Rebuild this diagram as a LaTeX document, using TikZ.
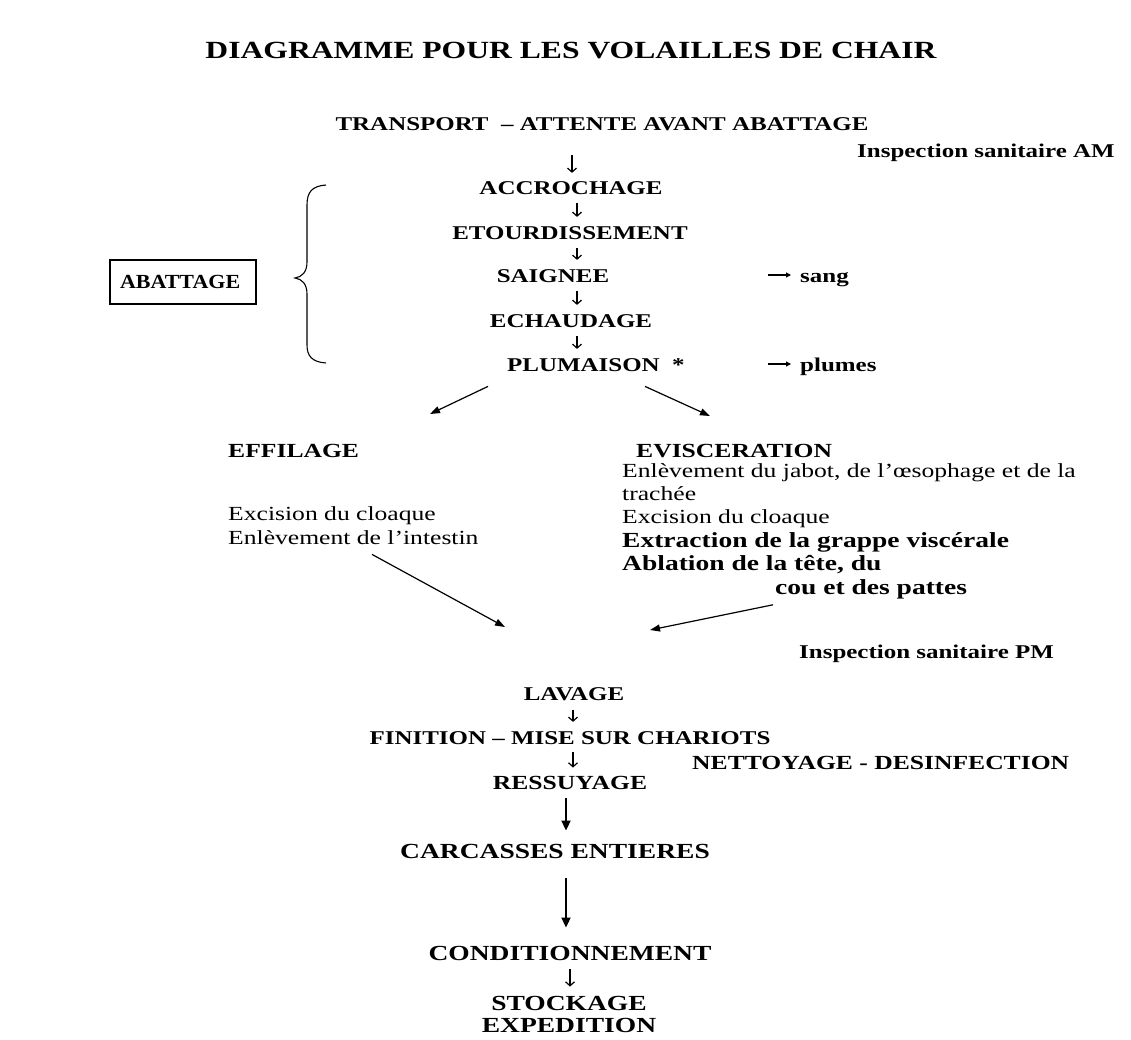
\documentclass[tikz,border=0pt]{standalone}
\usepackage{fontspec}
\setmainfont{Liberation Serif}
\usepackage{graphicx}
\usetikzlibrary{arrows.meta,calc}
\newcommand\wide[1]{\scalebox{1.28}[1]{#1}}
\newcommand\fsz[1]{\fontsize{#1}{#1}\selectfont}
\tikzset{
  lab/.style={inner sep=0pt, anchor=base, font=\bfseries\fsz{19.5}},
  labw/.style={lab, anchor=base west},
  reg/.style={inner sep=0pt, anchor=base west, font=\fsz{20}},
  regb/.style={inner sep=0pt, anchor=base west, font=\bfseries\fsz{21.5}},
  big/.style={lab, font=\bfseries\fsz{21.5}},
  flow/.style={-{Straight Barb[length=4pt,width=9pt]}, line width=1.2pt, shorten <=9pt, shorten >=9pt},
  bigflow/.style={-{Triangle[length=10pt,width=9pt]}, line width=1.8pt},
  diag/.style={-{Triangle[length=10pt,width=7pt]}, line width=1.2pt},
  side/.style={-{Triangle[length=5pt,width=5pt]}, line width=1.1pt, shorten >=9pt},
  boxed/.style={draw, line width=1.2pt, inner sep=0pt, minimum width=146pt, minimum height=44pt, text width=126pt, align=left, font=\bfseries\fsz{20}}
}
\begin{document}
\begin{tikzpicture}[x=1pt,y=-1pt]
\useasboundingbox[fill=white] (0,0) rectangle (1131,1039);

% title
\node[lab, font=\bfseries\fsz{24.7}] (title) at (571,58) {\wide{DIAGRAMME POUR LES VOLAILLES DE CHAIR}};

% main column
\node[lab] (transport) at (602,130) {\wide{TRANSPORT\ \ – ATTENTE AVANT ABATTAGE}};
\node[labw] (inspAM) at (857,157) {\wide{Inspection sanitaire AM}};
\node[lab] (acc) at (571,194) {\wide{ACCROCHAGE}};
\node[lab] (etour) at (570,239) {\wide{ETOURDISSEMENT}};
\node[lab] (saig) at (553,282) {\wide{SAIGNEE}};
\node[lab] (echau) at (571,327) {\wide{ECHAUDAGE}};
\node[labw] (plum) at (507,371) {\wide{PLUMAISON\ \ *}};
\node[labw] (sang) at (800,282) {\wide{sang}};
\node[labw] (plumes) at (800,371) {\wide{plumes}};
\coordinate (sangtail) at (768,275);
\coordinate (plumtail) at (768,364);
\draw[side] (sangtail) -- (sang.west |- sangtail);
\draw[side] (plumtail) -- (plumes.west |- plumtail);

\coordinate (colT) at (572,0);
\coordinate (colA) at (577,0);
\draw[flow, shorten <=25pt, shorten >=8pt] (transport.south -| colT) -- (acc.north -| colT);
\draw[flow] (acc.south -| colA) -- (etour.north -| colA);
\draw[flow] (etour.south -| colA) -- (saig.north -| colA);
\draw[flow] (saig.south -| colA) -- (echau.north -| colA);
\draw[flow] (echau.south -| colA) -- (plum.north -| colA);

% abattage box and brace
\node[boxed] (abat) at (183,282) {\scalebox{1.1}[1]{ABATTAGE}};
\draw[line width=1.1pt] (326,185) .. controls (312,186) and (307,192) .. (307,205)
  -- (307,262) .. controls (307,272) and (302,277) .. (295,278)
  .. controls (302,279) and (307,284) .. (307,294)
  -- (307,345) .. controls (307,356) and (312,362) .. (326,363);

% branches
\node[labw, font=\bfseries\fsz{20}] (effil) at (228,457) {\wide{EFFILAGE}};
\node[reg] (excL) at (228,520) {\wide{Excision du cloaque}};
\node[reg] (intest) at (228,544) {\wide{Enlèvement de l’intestin}};

\node[labw, font=\bfseries\fsz{20}] (evisc) at (636,457) {\wide{EVISCERATION}};
\node[reg] (jabot) at (622,477) {\wide{Enlèvement du jabot, de l’œsophage et de la}};
\node[reg] (trach) at (622,500) {\wide{trachée}};
\node[reg] (excR) at (622,523) {\wide{Excision du cloaque}};
\node[regb] (extr) at (622,547) {\wide{Extraction de la grappe viscérale}};
\node[regb] (abla) at (622,570) {\wide{Ablation de la tête, du}};
\node[regb] (cou) at (775,594) {\wide{cou et des pattes}};

\coordinate (hL) at (430,414);
\coordinate (hR) at (710,416);
\draw[diag] ($(plum.south west)+(-19,15)$) -- (hL);
\draw[diag] ($(plum.south west)+(138,15)$) -- (hR);

\coordinate (mL) at (505,627);
\coordinate (mR) at (650,630);
\draw[diag] ($(intest.south west)+(144,10)$) -- (mL);
\draw[diag] ($(cou.south west)+(-2,6)$) -- (mR);

\node[labw] (inspPM) at (799,658) {\wide{Inspection sanitaire PM}};

% lower column
\node[lab] (lav) at (574,700) {\wide{LAVAGE}};
\node[lab] (fini) at (570,744) {\wide{FINITION – MISE SUR CHARIOTS}};
\node[labw, font=\bfseries\fsz{20}] (nett) at (692,769) {\wide{NETTOYAGE - DESINFECTION}};
\node[lab, font=\bfseries\fsz{20}] (ress) at (570,789) {\wide{RESSUYAGE}};
\node[big] (carc) at (555,858) {\wide{CARCASSES ENTIERES}};
\node[big] (cond) at (570,960) {\wide{CONDITIONNEMENT}};
\node[big] (stock) at (569,1010) {\wide{STOCKAGE}};
\node[big] (exped) at (569,1032) {\wide{EXPEDITION}};

\coordinate (colB) at (573,0);
\coordinate (colC) at (570,0);
\coordinate (colD) at (566,0);
\draw[flow] (lav.south -| colB) -- (fini.north -| colB);
\draw[flow, shorten <=8pt, shorten >=8pt] (fini.south -| colB) -- (ress.north -| colB);
\draw[bigflow, shorten <=9pt, shorten >=13pt] (ress.south -| colD) -- (carc.north -| colD);
\draw[bigflow, shorten <=20pt, shorten >=18pt] (carc.south -| colD) -- (cond.north -| colD);
\draw[flow] (cond.south -| colC) -- (stock.north -| colC);
\end{tikzpicture}
\end{document}
